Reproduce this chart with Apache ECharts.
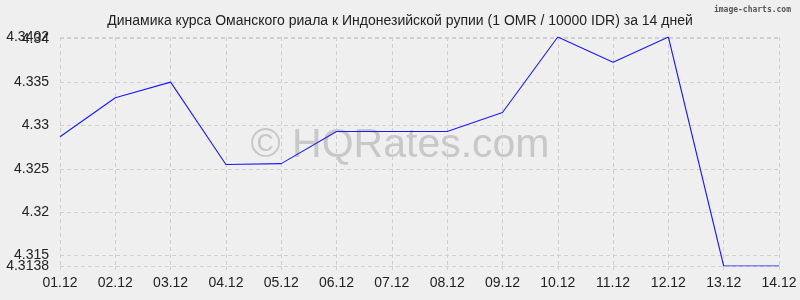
<!DOCTYPE html>
<html><head><meta charset="utf-8">
<script src="https://cdn.jsdelivr.net/npm/echarts@6/dist/echarts.min.js"></script>
<style>html,body{margin:0;padding:0;background:#efefef;}#c{width:800px;height:300px;}</style>
</head><body><div id="c"></div>
<script>
const titleText = 'Динамика курса Оманского риала к Индонезийской рупии (1 OMR / 10000 IDR) за 14 дней';
const categories = ['01.12','02.12','03.12','04.12','05.12','06.12','07.12','08.12','09.12','10.12','11.12','12.12','13.12','14.12'];
const rates = [4.3287, 4.3332, 4.3350, 4.3255, 4.3256, 4.3293, 4.3293, 4.3293, 4.3315, 4.3402, 4.3373, 4.3402, 4.3138, 4.3138];
const yMin = 4.3138;
const yMax = 4.3402;
const yTicks = [4.315, 4.32, 4.325, 4.33, 4.335, 4.34];
const yEndTicks = [4.3138, 4.3402];

const chart = echarts.init(document.getElementById('c'), null, {renderer:'canvas'});
const fmt = v => String(parseFloat(v.toFixed(4)));
const mkY = (vals) => ({
  type: 'value', min: yMin, max: yMax, position: 'left',
  axisLine: {show: false},
  axisTick: {show: false, customValues: vals},
  axisLabel: {color: '#222', fontSize: 14, fontFamily: 'Liberation Sans, Arial, sans-serif', margin: 11,
    customValues: vals, hideOverlap: false, showMinLabel: true, showMaxLabel: true, formatter: fmt},
  splitLine: {show: true, lineStyle: {color: '#d0d0d0', type: [4, 3]}}
});
chart.setOption({
  backgroundColor: '#efefef',
  animation: false,
  title: [{
    text: titleText, left: 'center', top: 9,
    textStyle: {fontFamily: 'Liberation Sans, Arial, sans-serif', fontSize: 14, fontWeight: 'normal', color: '#222'}
  }, {
    text: 'image-charts.com', right: 4, top: 1,
    textStyle: {fontFamily: 'DejaVu Sans Mono, monospace', fontSize: 8, fontWeight: 'bold', color: '#555'}
  }],
  graphic: [{
    type: 'text', x: 400, y: 146, z: 0,
    style: {text: '© HQRates.com', fontFamily: 'Liberation Sans, Arial, sans-serif', fontSize: 41, fill: '#c8c8c8', align: 'center', verticalAlign: 'middle'}
  }],
  grid: {left: 60, right: 21, top: 37, bottom: 34},
  xAxis: {
    type: 'category', data: categories, boundaryGap: false,
    axisLine: {show: false},
    axisTick: {show: true, length: 6, lineStyle: {color: '#d0d0d0', type: 'dashed'}},
    axisLabel: {color: '#222', fontSize: 14, fontFamily: 'Liberation Sans, Arial, sans-serif', margin: 10},
    splitLine: {show: true, lineStyle: {color: '#d0d0d0', type: [4, 3]}}
  },
  yAxis: [mkY(yTicks), mkY(yEndTicks)],
  series: [{
    type: 'line', data: rates, symbol: 'none', z: 5, yAxisIndex: 0,
    lineStyle: {color: '#1a1aff', width: 1.1}
  }]
});
</script></body></html>
